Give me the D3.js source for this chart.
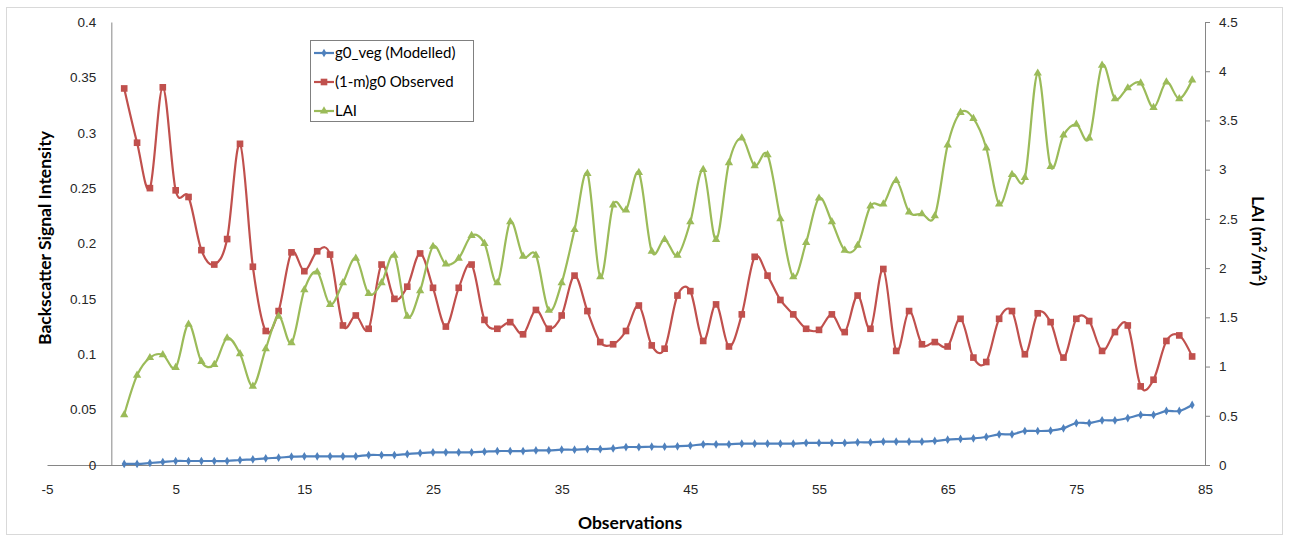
<!DOCTYPE html>
<html lang="en">
<head>
  <meta charset="UTF-8">
  <title>Backscatter vs LAI</title>
  <script src="https://d3js.org/d3.v7.min.js"></script>
  <style>
    body { margin: 0; background: #fff; font-family: Lato, "Open Sans", sans-serif; }
    .tick-label { font-size: 13.5px; fill: #262626; }
    .axis-title { font-size: 17.5px; font-weight: bold; fill: #000; }
    .legend-text { font-size: 15px; fill: #000; }
  </style>
</head>
<body>
  <svg width="1289" height="540"></svg>

  <script>
    // observation index 1..84
    const observations = d3.range(1, 85);

    const g0Veg = [0.001, 0.001, 0.0018, 0.0027, 0.0036, 0.0036, 0.0036, 0.0036, 0.0036, 0.0045,
      0.0051, 0.006, 0.0066, 0.0075, 0.0078, 0.0078, 0.0078, 0.0078, 0.0078, 0.009,
      0.009, 0.009, 0.0099, 0.0108, 0.0114, 0.0114, 0.0114, 0.0114, 0.012, 0.0126,
      0.0126, 0.0126, 0.0132, 0.0132, 0.0138, 0.0138, 0.0144, 0.0144, 0.015, 0.0162,
      0.0162, 0.0165, 0.0165, 0.0169, 0.0175, 0.0187, 0.0187, 0.0187, 0.0193, 0.0193,
      0.0193, 0.0193, 0.0193, 0.0199, 0.0199, 0.0199, 0.0199, 0.0205, 0.0205, 0.0211,
      0.0211, 0.0211, 0.0211, 0.0217, 0.0229, 0.0235, 0.0241, 0.0253, 0.0277, 0.0277,
      0.0307, 0.0307, 0.031, 0.0331, 0.0379, 0.0379, 0.0403, 0.0403, 0.0424, 0.0452,
      0.0452, 0.0488, 0.0488, 0.0542];

    const g0Observed = [0.340, 0.291, 0.250, 0.341, 0.248, 0.242, 0.194, 0.181, 0.204, 0.290,
      0.179, 0.121, 0.139, 0.192, 0.175, 0.193, 0.190, 0.126, 0.135, 0.123,
      0.181, 0.150, 0.161, 0.191, 0.160, 0.125, 0.160, 0.181, 0.131, 0.123,
      0.129, 0.118, 0.140, 0.123, 0.135, 0.171, 0.139, 0.111, 0.109, 0.121,
      0.144, 0.108, 0.105, 0.153, 0.157, 0.112, 0.145, 0.107, 0.136, 0.188,
      0.171, 0.149, 0.136, 0.123, 0.122, 0.136, 0.120, 0.153, 0.123, 0.177,
      0.103, 0.139, 0.109, 0.111, 0.107, 0.132, 0.097, 0.093, 0.132, 0.139,
      0.100, 0.137, 0.129, 0.097, 0.132, 0.130, 0.103, 0.120, 0.126, 0.071,
      0.077, 0.112, 0.117, 0.098];

    const lai = [0.51, 0.91, 1.09, 1.12, 0.99, 1.43, 1.05, 1.02, 1.29, 1.13,
      0.80, 1.18, 1.51, 1.24, 1.78, 1.96, 1.63, 1.85, 2.10, 1.74,
      1.85, 2.13, 1.51, 1.77, 2.22, 2.04, 2.10, 2.33, 2.25, 1.85,
      2.47, 2.12, 2.13, 1.57, 1.85, 2.39, 2.96, 1.91, 2.64, 2.59,
      2.97, 2.17, 2.29, 2.13, 2.47, 3.00, 2.29, 3.07, 3.32, 3.04,
      3.15, 2.50, 1.91, 2.26, 2.71, 2.47, 2.18, 2.23, 2.63, 2.65,
      2.89, 2.57, 2.55, 2.53, 3.25, 3.58, 3.52, 3.22, 2.65, 2.95,
      2.92, 3.98, 3.03, 3.35, 3.46, 3.32, 4.06, 3.72, 3.83, 3.88,
      3.63, 3.89, 3.72, 3.91];

    const xTicks = [-5, 5, 15, 25, 35, 45, 55, 65, 75, 85];
    const leftTicks = [0, 0.05, 0.1, 0.15, 0.2, 0.25, 0.3, 0.35, 0.4];
    const rightTicks = [0, 0.5, 1, 1.5, 2, 2.5, 3, 3.5, 4, 4.5];

    const blue = "#4F81BD", red = "#C0504D", green = "#9BBB59";
    const axisColor = "#868686";

    const svg = d3.select("svg");

    const x = d3.scaleLinear().domain([-5, 85]).range([47, 1205]);
    const yL = d3.scaleLinear().domain([0, 0.4]).range([465, 22]);
    const yR = d3.scaleLinear().domain([0, 4.5]).range([465, 22]);

    // chart border
    svg.append("rect")
      .attr("x", 6.5).attr("y", 7.5)
      .attr("width", 1276).attr("height", 527)
      .attr("fill", "none")
      .attr("stroke", "#d9d9d9");

    // x axis at y = 0
    const xAxis = svg.append("g")
      .attr("transform", `translate(0,${yL(0)})`)
      .call(d3.axisBottom(x).tickValues(xTicks).tickSize(0).tickFormat(d => String(d)));
    xAxis.select(".domain").attr("stroke", axisColor);
    xAxis.selectAll("text").attr("class", "tick-label").attr("dy", "1.9em");

    // left y axis crosses at x = 0
    const leftAxis = svg.append("g")
      .attr("transform", `translate(${x(0)},0)`)
      .call(d3.axisLeft(yL).tickValues(leftTicks).tickSize(0).tickPadding(15).tickFormat(d => d));
    leftAxis.select(".domain").attr("stroke", axisColor);
    leftAxis.selectAll("text").attr("class", "tick-label").attr("text-anchor", "end");

    // right y axis
    const rightAxis = svg.append("g")
      .attr("transform", `translate(${x(85)},0)`)
      .call(d3.axisRight(yR).tickValues(rightTicks).tickSize(5).tickPadding(9).tickFormat(d => d));
    rightAxis.select(".domain").attr("stroke", axisColor);
    rightAxis.selectAll("line").attr("stroke", axisColor);
    rightAxis.selectAll("text").attr("class", "tick-label");

    // series
    const series = [
      { name: "g0_veg (Modelled)", values: g0Veg, y: yL, color: blue, shape: d3.symbolDiamond, size: 22 },
      { name: "(1-m)g0 Observed", values: g0Observed, y: yL, color: red, shape: d3.symbolSquare, size: 44 },
      { name: "LAI", values: lai, y: yR, color: green, shape: d3.symbolTriangle, size: 30 }
    ];

    series.forEach(s => {
      const pts = observations.map((o, i) => [x(o), s.y(s.values[i])]);
      svg.append("path")
        .attr("d", d3.line().curve(d3.curveCardinal.tension(0))(pts))
        .attr("fill", "none")
        .attr("stroke", s.color)
        .attr("stroke-width", 2.2);
      svg.append("g").selectAll("path")
        .data(pts)
        .join("path")
        .attr("transform", d => `translate(${d[0]},${d[1]})`)
        .attr("d", d3.symbol().type(s.shape).size(s.size))
        .attr("fill", s.color);
    });

    // axis titles
    svg.append("text")
      .attr("class", "axis-title")
      .attr("x", 630).attr("y", 529)
      .attr("text-anchor", "middle")
      .text("Observations");

    svg.append("text")
      .attr("class", "axis-title")
      .attr("transform", "translate(51,238) rotate(-90)")
      .attr("text-anchor", "middle")
      .text("Backscatter Signal Intensity");

    const rt = svg.append("text")
      .attr("class", "axis-title")
      .attr("transform", "translate(1252,241) rotate(90)")
      .attr("text-anchor", "middle");
    rt.append("tspan").text("LAI (m");
    rt.append("tspan").attr("dy", -7).attr("font-size", "11px").text("2");
    rt.append("tspan").attr("dy", 7).text("/m");
    rt.append("tspan").attr("dy", -7).attr("font-size", "11px").text("2");
    rt.append("tspan").attr("dy", 7).text(")");

    // legend
    const legend = svg.append("g");
    legend.append("rect")
      .attr("x", 310.5).attr("y", 40.5)
      .attr("width", 163).attr("height", 81)
      .attr("fill", "#fff")
      .attr("stroke", "#808080");

    series.forEach((s, i) => {
      const ly = 53 + i * 29;
      legend.append("line")
        .attr("x1", 314).attr("x2", 334)
        .attr("y1", ly).attr("y2", ly)
        .attr("stroke", s.color).attr("stroke-width", 2.2);
      legend.append("path")
        .attr("transform", `translate(324,${ly})`)
        .attr("d", d3.symbol().type(s.shape).size(s.size))
        .attr("fill", s.color);
      legend.append("text")
        .attr("class", "legend-text")
        .attr("x", 335).attr("y", ly + 5)
        .text(s.name);
    });
  </script>
</body>
</html>
